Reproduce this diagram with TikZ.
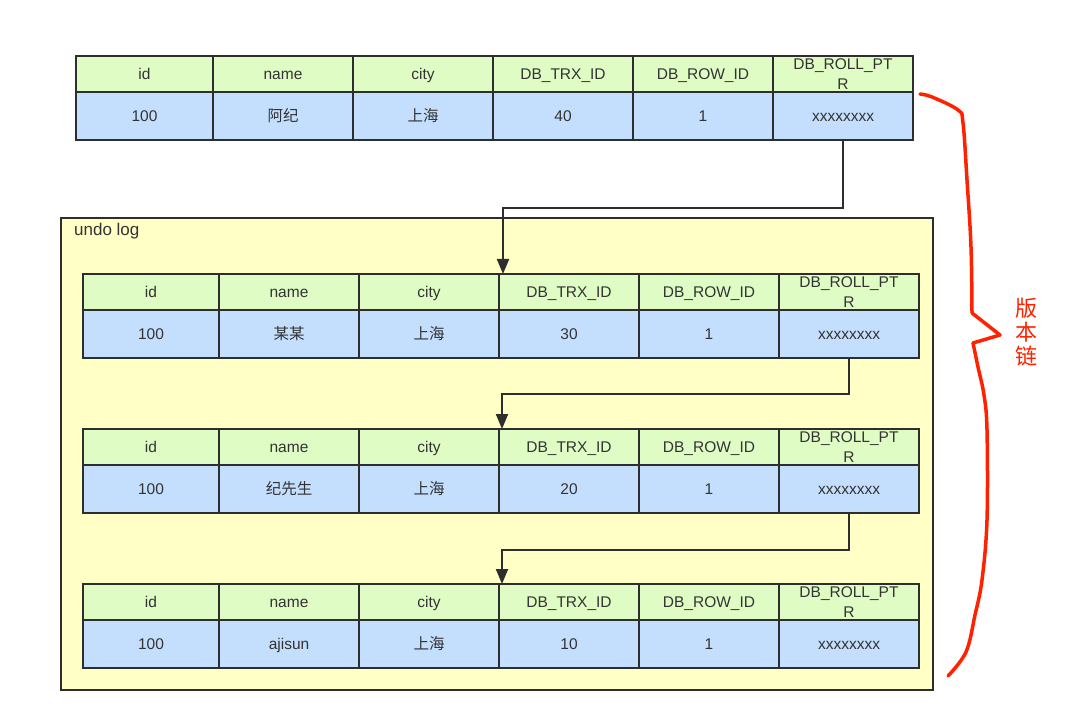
\documentclass[tikz,border=0pt]{standalone}
\usepackage{fontspec}
\setmainfont{Liberation Sans}
\newfontfamily\cjk{Noto Sans CJK SC}
\usetikzlibrary{arrows.meta}
\definecolor{hdrgreen}{HTML}{DFFCC4}
\definecolor{datblue}{HTML}{C3DFFD}
\definecolor{undoyel}{HTML}{FFFFC6}
\definecolor{linegray}{HTML}{2E2E2E}
\definecolor{txtgray}{HTML}{333333}
\definecolor{chainred}{HTML}{FF2200}
\tikzset{
  cellbase/.style={draw=linegray, line width=2.8pt, inner sep=0pt, outer sep=0pt,
    minimum width=140pt, anchor=north west, text=txtgray, align=center,
    font=\fontsize{15.5}{20}\selectfont},
  onerow/.style={text height=11.2pt, text depth=0pt},
  hcell/.style={cellbase, fill=hdrgreen, minimum height=36pt},
  dcell/.style={cellbase, onerow, fill=datblue, minimum height=48pt},
  conn/.style={draw=linegray, line width=2pt, -{Triangle[width=12pt,length=15pt]}},
  brace/.style={draw=chainred, line width=3.5pt, line cap=round, line join=round},
}
% #1 prefix, #2 x, #3 y, #4 first column width, #5 name, #6 trx id
\newcommand\dbtable[6]{%
  \node[hcell, onerow, minimum width=#4pt] (#1h1) at (#2,#3) {id};
  \node[hcell, onerow] (#1h2) at (#1h1.north east) {name};
  \node[hcell, onerow] (#1h3) at (#1h2.north east) {city};
  \node[hcell, onerow] (#1h4) at (#1h3.north east) {DB\_TRX\_ID};
  \node[hcell, onerow] (#1h5) at (#1h4.north east) {DB\_ROW\_ID};
  \node[hcell] (#1h6) at (#1h5.north east) {DB\_ROLL\_PT\\R};
  \node[dcell, minimum width=#4pt] (#1d1) at (#1h1.south west) {100};
  \node[dcell] (#1d2) at (#1h2.south west) {#5};
  \node[dcell] (#1d3) at (#1h3.south west) {{\cjk 上海}};
  \node[dcell] (#1d4) at (#1h4.south west) {#6};
  \node[dcell] (#1d5) at (#1h5.south west) {1};
  \node[dcell] (#1d6) at (#1h6.south west) {xxxxxxxx};
}
\begin{document}
\begin{tikzpicture}[x=1pt,y=-1pt]
\useasboundingbox (0,0) rectangle (1080,722);

\dbtable{t1}{76}{56}{137}{{\cjk 阿纪}}{40}

\node[draw=linegray, line width=2pt, fill=undoyel, minimum width=872pt, minimum height=472pt,
  anchor=north west, inner sep=0pt, outer sep=0pt] (undo) at (61,218) {};
\node[anchor=west, text=txtgray, font=\fontsize{17}{20}\selectfont, inner sep=0pt] (undolbl) at (74,231) {undo log};

\dbtable{t2}{83}{274}{136}{{\cjk 某某}}{30}
\dbtable{t3}{83}{429}{136}{{\cjk 纪先生}}{20}
\dbtable{t4}{83}{584}{136}{ajisun}{10}

\draw[conn] (t1d6.south) -- ++(0,68) -| ([xshift=4pt]t2h4.north west);
\draw[conn] (t2d6.south) -- ++(0,36) -| ([xshift=3pt]t3h4.north west);
\draw[conn] (t3d6.south) -- ++(0,37) -| ([xshift=3pt]t4h4.north west);

\draw[brace] plot[smooth, tension=0.6] coordinates {(920,94) (932,97) (958,110) (963,123) (967,180) (971,247) (972,313)};
\draw[brace] (972,313) -- (1000,335) -- (973,343);
\draw[brace] plot[smooth, tension=0.6] coordinates {(973,343) (978,367) (984,395) (987,430) (987,520) (982,580) (975,615) (966,652) (948,676)};

\node[text=chainred, font=\cjk\fontsize{22}{24}\selectfont, align=center, inner sep=0pt] (chain) at (1026,332) {版\\本\\链};
\end{tikzpicture}
\end{document}
